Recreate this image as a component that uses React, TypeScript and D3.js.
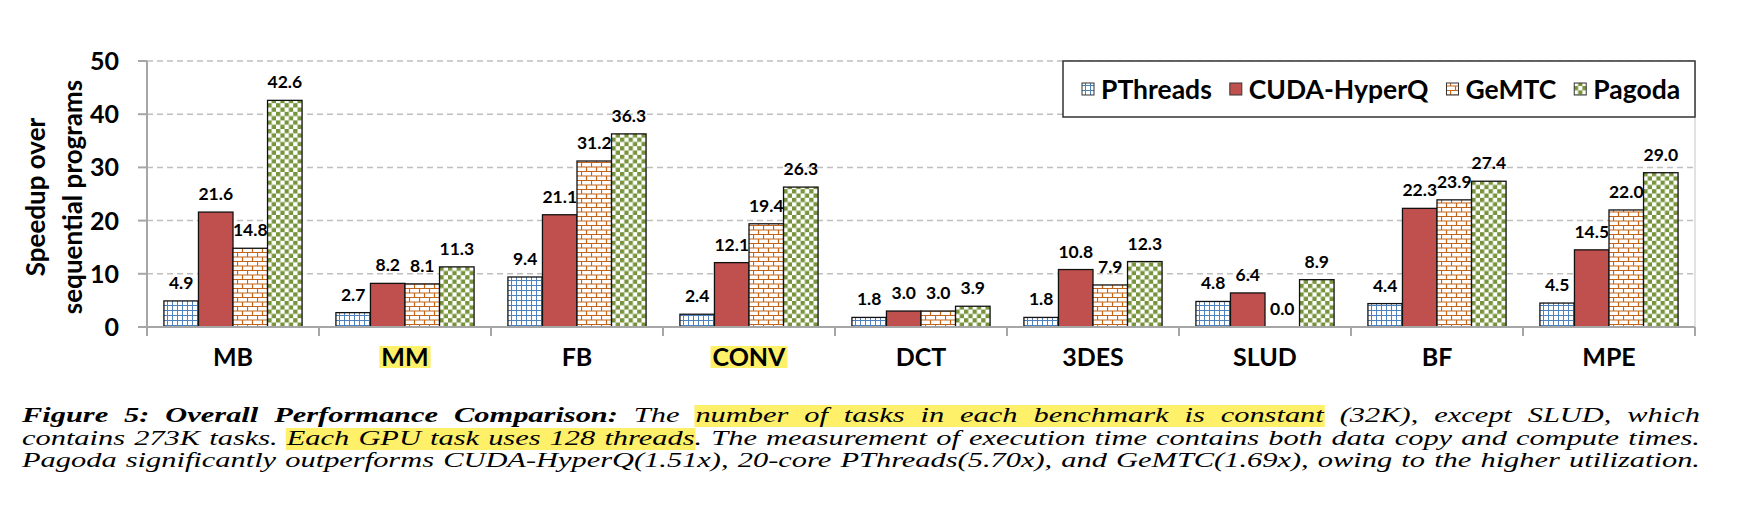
import React, { useEffect, useRef } from 'react';
import * as d3 from 'd3';

const categories = ['MB', 'MM', 'FB', 'CONV', 'DCT', '3DES', 'SLUD', 'BF', 'MPE'];
const highlightedCategories = ['MM', 'CONV'];
const seriesNames = ['PThreads', 'CUDA-HyperQ', 'GeMTC', 'Pagoda'];
const pthreads = [4.9, 2.7, 9.4, 2.4, 1.8, 1.8, 4.8, 4.4, 4.5];
const cudaHyperQ = [21.6, 8.2, 21.1, 12.1, 3.0, 10.8, 6.4, 22.3, 14.5];
const gemtc = [14.8, 8.1, 31.2, 19.4, 3.0, 7.9, 0.0, 23.9, 22.0];
const pagoda = [42.6, 11.3, 36.3, 26.3, 3.9, 12.3, 8.9, 27.4, 29.0];
const yTicks = [0, 10, 20, 30, 40, 50];
const yTitle = ['Speedup over', 'sequential programs'];

// caption lines: [text, style] pieces; 'b' = bold, 'h' = highlighted, '' = plain
const captionLines: [string, string][][] = [
    [['Figure 5: Overall Performance Comparison:', 'b'], [' The ', ''], ['number of tasks in each benchmark is constant', 'h'], [' (32K), except SLUD, which', '']],
    [['contains 273K tasks. ', ''], ['Each GPU task uses 128 threads', 'h'], ['. The measurement of execution time contains both data copy and compute times.', '']],
    [['Pagoda significantly outperforms CUDA-HyperQ(1.51x), 20-core PThreads(5.70x), and GeMTC(1.69x), owing to the higher utilization.', '']],
];

const W = 1739;
const H = 507;
const FONT = 'Lato, "Open Sans", sans-serif';
const SERIF = '"Liberation Serif", "DejaVu Serif", serif';
const HL = '#FFF06A';

type Word = { text: string; style: string }[];

function splitWords(line: [string, string][]): Word[] {
    const words: Word[] = [];
    let glue = false;
    line.forEach(([txt, style]) => {
        const parts = txt.split(' ');
        parts.forEach((p, pi) => {
            if (pi > 0) glue = false;
            if (p === '') return;
            if (glue && words.length) words[words.length - 1].push({ text: p, style });
            else words.push([{ text: p, style }]);
            glue = true;
        });
    });
    return words;
}

const App: React.FC = () => {
    const svgRef = useRef<SVGSVGElement>(null);

    useEffect(() => {
        if (!svgRef.current) return;
        document.body.style.margin = '0';
        const svg = d3.select(svgRef.current);
        svg.selectAll('*').remove();

        const values = [pthreads, cudaHyperQ, gemtc, pagoda];
        const left = 147, right = 1695, top = 61, bottom = 327;

        // patterns
        const defs = svg.append('defs');
        const grid = defs.append('pattern').attr('id', 'p-grid')
            .attr('patternUnits', 'userSpaceOnUse').attr('width', 5).attr('height', 5);
        grid.append('rect').attr('width', 5).attr('height', 5).attr('fill', '#fff');
        grid.append('path').attr('d', 'M0 0.5 H5 M0.5 0 V5').attr('stroke', '#4F81BD').attr('stroke-width', 1);

        const brick = defs.append('pattern').attr('id', 'p-brick')
            .attr('patternUnits', 'userSpaceOnUse').attr('width', 10).attr('height', 9);
        brick.append('rect').attr('width', 10).attr('height', 9).attr('fill', '#fff');
        brick.append('path')
            .attr('d', 'M0 0.5 H10 M0 5 H10 M0.5 0 V5 M5.5 5 V9')
            .attr('stroke', '#C2651A').attr('stroke-width', 1.2);

        const check = defs.append('pattern').attr('id', 'p-check')
            .attr('patternUnits', 'userSpaceOnUse').attr('width', 8.6).attr('height', 8.6);
        check.append('rect').attr('width', 8.6).attr('height', 8.6).attr('fill', '#fff');
        check.append('rect').attr('width', 4.3).attr('height', 4.3).attr('fill', '#77933C');
        check.append('rect').attr('x', 4.3).attr('y', 4.3).attr('width', 4.3).attr('height', 4.3).attr('fill', '#77933C');

        const fills = ['url(#p-grid)', '#C0504D', 'url(#p-brick)', 'url(#p-check)'];

        // scales
        const x = d3.scaleBand().domain(categories).range([left, right]).padding(0);
        const xInner = d3.scaleBand().domain(seriesNames).range([0, x.bandwidth()])
            .paddingInner(0).paddingOuter(0.49);
        const y = d3.scaleLinear().domain([0, 50]).range([bottom, top]);

        // gridlines
        svg.append('g').selectAll('line').data(yTicks.filter(t => t > 0)).enter()
            .append('line')
            .attr('x1', left).attr('x2', right)
            .attr('y1', d => y(d)).attr('y2', d => y(d))
            .attr('stroke', '#BFBFBF').attr('stroke-width', 1.5)
            .attr('stroke-dasharray', '6,4');

        // y axis
        svg.append('line').attr('x1', left).attr('x2', left).attr('y1', top).attr('y2', bottom + 9)
            .attr('stroke', '#A6A6A6').attr('stroke-width', 2);
        svg.append('line').attr('x1', right).attr('x2', right).attr('y1', top).attr('y2', bottom + 9)
            .attr('stroke', '#D9D9D9').attr('stroke-width', 1.5);
        svg.append('g').selectAll('line').data(yTicks).enter().append('line')
            .attr('x1', left - 9).attr('x2', left)
            .attr('y1', d => y(d)).attr('y2', d => y(d))
            .attr('stroke', '#A6A6A6').attr('stroke-width', 2);
        svg.append('g').selectAll('text').data(yTicks).enter().append('text')
            .attr('x', 119).attr('y', d => y(d)).attr('dy', '0.36em')
            .attr('text-anchor', 'end')
            .style('font-family', FONT).style('font-weight', 'bold').style('font-size', '25px')
            .text(d => d);

        // y title
        const yt = svg.append('g').attr('transform', `translate(0,${197}) rotate(-90)`);
        yt.selectAll('text').data(yTitle).enter().append('text')
            .attr('x', 0).attr('y', (d, i) => 45 + i * 37)
            .attr('text-anchor', 'middle')
            .style('font-family', FONT).style('font-weight', 'bold').style('font-size', '26px')
            .text(d => d);

        // category ticks
        const bounds = categories.map(c => x(c) as number).concat([right]);
        svg.append('g').selectAll('line').data(bounds).enter().append('line')
            .attr('x1', d => d).attr('x2', d => d)
            .attr('y1', bottom).attr('y2', bottom + 9)
            .attr('stroke', '#A6A6A6').attr('stroke-width', 2);

        // bars
        const groups = svg.append('g').selectAll('g').data(categories).enter().append('g')
            .attr('transform', d => `translate(${x(d)},0)`);
        seriesNames.forEach((s, si) => {
            groups.filter((c, ci) => values[si][ci] > 0).append('rect')
                .attr('x', xInner(s) as number)
                .attr('y', c => y(values[si][categories.indexOf(c)]))
                .attr('width', xInner.bandwidth())
                .attr('height', c => bottom - y(values[si][categories.indexOf(c)]))
                .attr('fill', fills[si])
                .attr('stroke', '#111').attr('stroke-width', 1.3);
            groups.append('text')
                .attr('x', (xInner(s) as number) + xInner.bandwidth() / 2)
                .attr('y', c => y(values[si][categories.indexOf(c)]) - 12)
                .attr('text-anchor', 'middle')
                .style('font-family', FONT).style('font-weight', 'bold').style('font-size', '17.5px')
                .text(c => values[si][categories.indexOf(c)].toFixed(1));
        });

        // x axis line
        svg.append('line').attr('x1', left).attr('x2', right).attr('y1', bottom).attr('y2', bottom)
            .attr('stroke', '#A6A6A6').attr('stroke-width', 2);

        // category labels (some highlighted)
        const catLabels = svg.append('g');
        categories.forEach(c => {
            const cx = (x(c) as number) + x.bandwidth() / 2;
            const hl = catLabels.append('rect').attr('fill', HL);
            const t = catLabels.append('text')
                .attr('x', cx).attr('y', 357).attr('dy', '0.36em')
                .attr('text-anchor', 'middle')
                .style('font-family', FONT).style('font-weight', 'bold').style('font-size', '25px')
                .text(c);
            if (highlightedCategories.includes(c)) {
                const w = (t.node() as SVGTextElement).getComputedTextLength();
                hl.attr('x', cx - w / 2 - 2).attr('y', 346).attr('width', w + 4).attr('height', 22);
            } else hl.remove();
        });

        // legend
        const legend = svg.append('g');
        legend.append('rect').attr('x', 1063).attr('y', 61).attr('width', 632).attr('height', 56)
            .attr('fill', '#fff').attr('stroke', '#333').attr('stroke-width', 1.5);
        let lx = 1082;
        seriesNames.forEach((s, si) => {
            legend.append('rect').attr('x', lx).attr('y', 83).attr('width', 12).attr('height', 12)
                .attr('fill', fills[si]).attr('stroke', '#333').attr('stroke-width', 1);
            const t = legend.append('text').attr('x', lx + 19).attr('y', 89).attr('dy', '0.36em')
                .style('font-family', FONT).style('font-weight', 'bold').style('font-size', '26.5px')
                .text(s);
            lx += 19 + (t.node() as SVGTextElement).getComputedTextLength() + 18;
        });

        // caption, justified between x0 and x1; glyphs stretched horizontally
        const cap = svg.append('g');
        const x0 = 22, x1 = 1700;
        const baselines = [422, 445, 467];
        const allWords = captionLines.map(splitWords);
        const fs = 20;

        const measure = (text: string, style: string) => {
            const n = cap.append('text')
                .style('font-family', SERIF).style('font-style', 'italic')
                .style('font-weight', style === 'b' ? 'bold' : 'normal')
                .style('font-size', `${fs}px`).text(text);
            const w = (n.node() as SVGTextElement).getComputedTextLength();
            n.remove();
            return w;
        };
        // stretch so that the last line fills the width with ordinary spaces
        const natural = allWords[2].reduce((a, wd) => a + d3.sum(wd, f => measure(f.text, f.style)), 0)
            + (allWords[2].length - 1) * fs * 0.3;
        const sx = (x1 - x0) / natural;

        allWords.forEach((words, li) => {
            const frags: { x: number; w: number; style: string; wi: number; text: string }[] = [];
            const wordWidths = words.map((wd, wi) => {
                let ww = 0;
                wd.forEach(f => {
                    const w = measure(f.text, f.style) * sx;
                    frags.push({ x: 0, w, style: f.style, wi, text: f.text });
                    ww += w;
                });
                return ww;
            });
            const gap = (x1 - x0 - d3.sum(wordWidths)) / Math.max(1, words.length - 1);
            let cx = x0;
            let fi = 0;
            words.forEach((wd, wi) => {
                let fx = cx;
                wd.forEach(() => {
                    const f = frags[fi++];
                    f.x = fx;
                    fx += f.w;
                });
                cx += wordWidths[wi] + gap;
            });
            frags.forEach((f, i) => {
                if (f.style !== 'h') return;
                const next = frags[i + 1];
                let end = f.x + f.w;
                if (next && next.style === 'h' && next.wi !== f.wi) end = next.x;
                cap.append('rect')
                    .attr('x', f.x - 1).attr('y', baselines[li] - 17)
                    .attr('width', end - f.x + 2).attr('height', 22)
                    .attr('fill', HL);
            });
            frags.forEach(f => {
                cap.append('text')
                    .attr('transform', `translate(${f.x},${baselines[li]}) scale(${sx},1)`)
                    .style('font-family', SERIF).style('font-style', 'italic')
                    .style('font-weight', f.style === 'b' ? 'bold' : 'normal')
                    .style('font-size', `${fs}px`)
                    .text(f.text);
            });
        });
    }, []);

    return (
        <svg ref={svgRef} width={W} height={H} style={{ display: 'block', background: '#fff' }}></svg>
    );
};

export default App;
